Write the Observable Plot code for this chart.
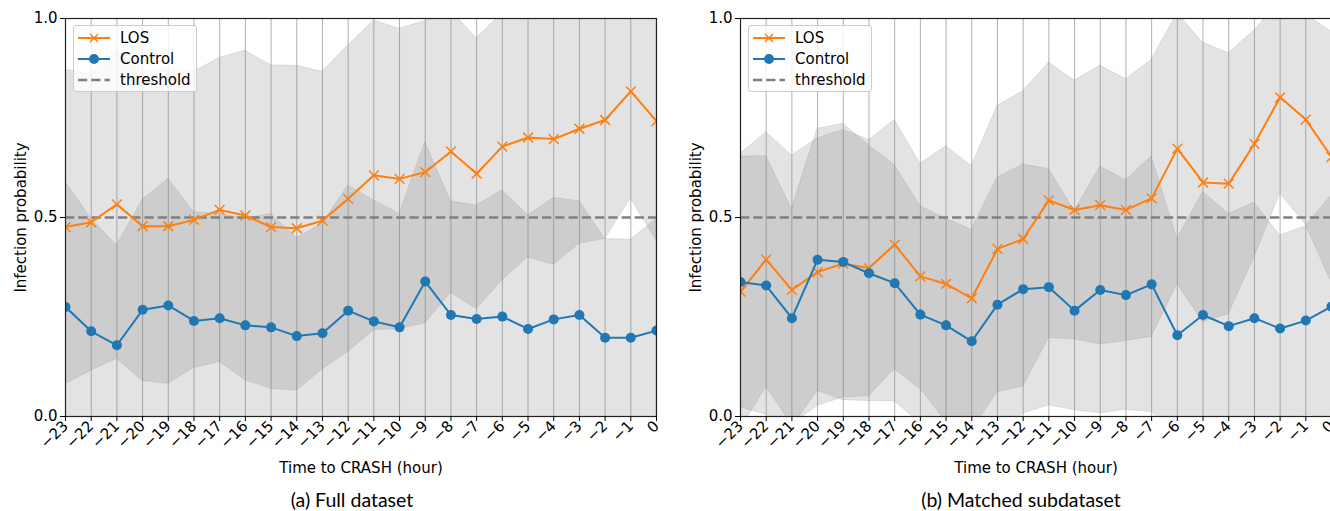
<!DOCTYPE html>
<html>
<head>
<meta charset="utf-8">
<script src="https://cdn.jsdelivr.net/npm/d3@7"></script>
<script src="https://cdn.jsdelivr.net/npm/@observablehq/plot@0.6"></script>
<style>
  html, body { margin: 0; padding: 0; background: #fff; overflow: hidden; }
  #wrap { position: relative; width: 1330px; height: 511px; overflow: hidden; }
  .panel { position: absolute; top: 0; }
  .legend {
    position: absolute; top: 25px; width: 124px; height: 67px;
    background: rgba(255,255,255,0.8); border: 1px solid #cccccc; border-radius: 3px;
    box-sizing: border-box; font-family: "DejaVu Sans", sans-serif; font-size: 15px; color: #000;
  }
  .legend .row { position: absolute; left: 4px; height: 20px; display: flex; align-items: center; }
  .legend .row span { margin-left: 10px; }
  .caption {
    position: absolute; top: 488px; transform: translateX(-50%); white-space: nowrap;
    font-family: Lato, "Open Sans", sans-serif; font-size: 19.5px; color: #000;
  }
</style>
</head>
<body>
<div id="wrap"></div>
<script>
// Hours before the crash (x axis)
const hours = [-23, -22, -21, -20, -19, -18, -17, -16, -15, -14, -13, -12,
               -11, -10, -9, -8, -7, -6, -5, -4, -3, -2, -1, 0];
const yTicks = [0, 0.5, 1];
const threshold = 0.5;

// (a) Full dataset: mean infection probability and standard deviation
const fullLos = [0.476, 0.488, 0.533, 0.478, 0.478, 0.494, 0.519, 0.505, 0.476, 0.473, 0.492, 0.547,
                 0.606, 0.597, 0.614, 0.666, 0.610, 0.678, 0.701, 0.697, 0.723, 0.745, 0.817, 0.742];
const fullLosStd = [0.395, 0.373, 0.388, 0.389, 0.396, 0.372, 0.382, 0.414, 0.406, 0.408, 0.374, 0.385,
                    0.389, 0.377, 0.380, 0.355, 0.340, 0.336, 0.301, 0.316, 0.289, 0.299, 0.270, 0.300];
const fullCtrl = [0.275, 0.214, 0.179, 0.268, 0.279, 0.240, 0.247, 0.229, 0.224, 0.202, 0.209, 0.266,
                  0.239, 0.224, 0.339, 0.255, 0.245, 0.251, 0.220, 0.244, 0.255, 0.198, 0.198, 0.216];
const fullCtrlStd = [0.314, 0.283, 0.251, 0.276, 0.318, 0.273, 0.262, 0.268, 0.285, 0.246, 0.275, 0.314,
                     0.304, 0.285, 0.350, 0.285, 0.285, 0.317, 0.285, 0.305, 0.286, 0.248, 0.246, 0.281];

// (b) Matched subdataset
const subLos = [0.314, 0.394, 0.318, 0.363, 0.384, 0.373, 0.432, 0.352, 0.333, 0.297, 0.421, 0.446,
                0.543, 0.519, 0.531, 0.519, 0.548, 0.673, 0.588, 0.585, 0.685, 0.802, 0.746, 0.652];
const subLosStd = [0.346, 0.320, 0.338, 0.336, 0.336, 0.322, 0.313, 0.283, 0.346, 0.332, 0.360, 0.371,
                   0.346, 0.325, 0.350, 0.329, 0.348, 0.340, 0.351, 0.328, 0.285, 0.242, 0.264, 0.315];
const subCtrl = [0.338, 0.329, 0.247, 0.394, 0.388, 0.360, 0.335, 0.256, 0.229, 0.189, 0.281, 0.320,
                 0.325, 0.266, 0.318, 0.305, 0.332, 0.204, 0.255, 0.227, 0.247, 0.221, 0.241, 0.276];
const subCtrlStd = [0.315, 0.325, 0.275, 0.329, 0.347, 0.321, 0.297, 0.272, 0.268, 0.280, 0.319, 0.313,
                    0.297, 0.250, 0.310, 0.288, 0.321, 0.242, 0.309, 0.282, 0.290, 0.234, 0.237, 0.279];

const ORANGE = "#ff7f0e", BLUE = "#1f77b4", GREY = "#808080";

function panel(los, losStd, ctrl, ctrlStd) {
  const rows = hours.map((h, i) => ({
    h,
    los: los[i], losLo: los[i] - losStd[i], losHi: los[i] + losStd[i],
    ctrl: ctrl[i], ctrlLo: ctrl[i] - ctrlStd[i], ctrlHi: ctrl[i] + ctrlStd[i]
  }));
  return Plot.plot({
    width: 665, height: 480,
    marginLeft: 65, marginRight: 9, marginTop: 18, marginBottom: 64,
    style: { fontFamily: "'DejaVu Sans', sans-serif", fontSize: "15px", color: "#000", background: "transparent", overflow: "visible" },
    x: { domain: [-23, 0] },
    y: { domain: [0, 1] },
    marks: [
      Plot.ruleX(hours, { stroke: "#b0b0b0", strokeWidth: 1 }),
      Plot.areaY(rows, { x: "h", y1: "losLo", y2: "losHi", fill: GREY, fillOpacity: 0.22, stroke: GREY, strokeOpacity: 0.18, strokeWidth: 1, clip: true }),
      Plot.areaY(rows, { x: "h", y1: "ctrlLo", y2: "ctrlHi", fill: GREY, fillOpacity: 0.22, stroke: GREY, strokeOpacity: 0.18, strokeWidth: 1, clip: true }),
      Plot.ruleY([threshold], { stroke: GREY, strokeWidth: 2.5, strokeDasharray: "9.25,4" }),
      Plot.line(rows, { x: "h", y: "los", stroke: ORANGE, strokeWidth: 2, clip: true }),
      Plot.dot(rows, { x: "h", y: "los", symbol: "times", stroke: ORANGE, r: 4.5, strokeWidth: 1.5, clip: true }),
      Plot.line(rows, { x: "h", y: "ctrl", stroke: BLUE, strokeWidth: 2, clip: true }),
      Plot.dot(rows, { x: "h", y: "ctrl", fill: BLUE, stroke: null, r: 5, clip: true }),
      Plot.frame({ stroke: "#222", strokeWidth: 1.2 }),
      Plot.axisY({ ticks: yTicks, tickFormat: ".1f", tickSize: 5, tickPadding: 3,
                   label: "Infection probability", labelAnchor: "center", labelArrow: "none", labelOffset: 50 }),
      Plot.axisX({ ticks: hours, tickFormat: d => d3.format("d")(d), tickSize: 5, tickRotate: -45, tickPadding: 2,
                   label: "Time to CRASH (hour)", labelAnchor: "center", labelArrow: "none", labelOffset: 56 })
    ]
  });
}

function legend(left) {
  const div = document.createElement("div");
  div.className = "legend";
  div.style.left = left + "px";
  const items = [
    { name: "LOS", kind: "times", color: ORANGE },
    { name: "Control", kind: "dot", color: BLUE },
    { name: "threshold", kind: "dash", color: GREY }
  ];
  items.forEach((it, i) => {
    const row = document.createElement("div");
    row.className = "row";
    row.style.top = (2 + i * 21) + "px";
    let glyph = "";
    if (it.kind === "times") glyph = `<line x1="0" y1="10" x2="32" y2="10" stroke="${it.color}" stroke-width="2"/><path d="M12,6L20,14M20,6L12,14" stroke="${it.color}" stroke-width="1.5"/>`;
    if (it.kind === "dot") glyph = `<line x1="0" y1="10" x2="32" y2="10" stroke="${it.color}" stroke-width="2"/><circle cx="16" cy="10" r="5" fill="${it.color}"/>`;
    if (it.kind === "dash") glyph = `<line x1="0" y1="10" x2="32" y2="10" stroke="${it.color}" stroke-width="2.5" stroke-dasharray="9.25,4"/>`;
    row.innerHTML = `<svg width="32" height="20">${glyph}</svg><span>${it.name}</span>`;
    div.appendChild(row);
  });
  return div;
}

const wrap = document.getElementById("wrap");
[
  { left: 0, data: [fullLos, fullLosStd, fullCtrl, fullCtrlStd], caption: "(a) Full dataset", cx: 352 },
  { left: 675, data: [subLos, subLosStd, subCtrl, subCtrlStd], caption: "(b) Matched subdataset", cx: 1021 }
].forEach(p => {
  const chart = panel(...p.data);
  chart.classList.add("panel");
  chart.style.left = p.left + "px";
  wrap.appendChild(chart);
  wrap.appendChild(legend(p.left + 73));
  const cap = document.createElement("div");
  cap.className = "caption";
  cap.style.left = p.cx + "px";
  cap.textContent = p.caption;
  wrap.appendChild(cap);
});
</script>
</body>
</html>
